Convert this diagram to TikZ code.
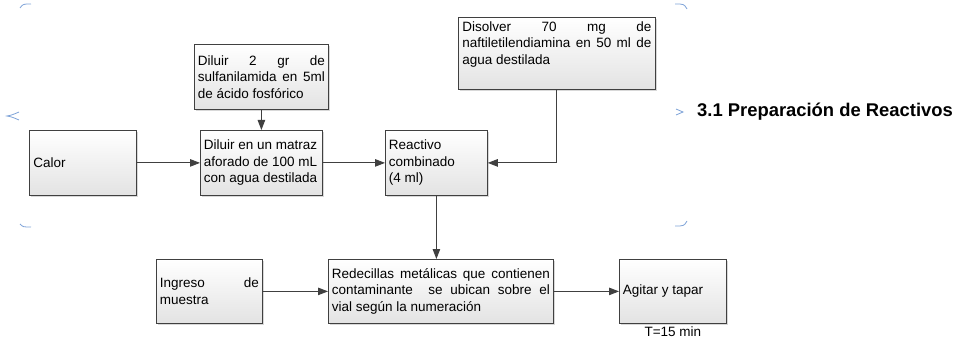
\documentclass[tikz,border=0pt]{standalone}
\usepackage{fontspec}
\setmainfont{Liberation Sans}
\usetikzlibrary{arrows.meta,shadows}
\definecolor{edgegray}{HTML}{404040}
\definecolor{bracecol}{HTML}{7FA3D8}
\tikzset{
 boxnode/.style={draw=edgegray, line width=0.8pt, top color=white, bottom color=black!11,
   drop shadow={shadow xshift=1.3pt, shadow yshift=-1.3pt, fill=black!30, opacity=0.5},
   anchor=north west, inner sep=0pt, font=\fontsize{13.5}{16.5}\selectfont, align=justify},
 flow/.style={draw=edgegray, line width=0.9pt, -{Triangle[length=10pt,width=7.5pt]}},
 bracemark/.style={draw=bracecol, line width=0.8pt},
}
\begin{document}
\begin{tikzpicture}[x=1pt,y=-1pt]
\useasboundingbox (0,0) rectangle (958,339);
% boxes
\node[boxnode, minimum width=107pt, minimum height=65pt, text width=99pt] (calor) at (29,130) {Calor};
\node[boxnode, minimum width=134pt, minimum height=65pt, text width=127pt] (sulf) at (194,44)
  {Diluir 2 gr de\linebreak sulfanilamida en 5ml\linebreak de ácido fosfórico};
\node[boxnode, minimum width=122pt, minimum height=65pt, text width=115pt] (dil) at (200,130)
  {Diluir en un matraz\\ aforado de 100 mL\\ con agua destilada};
\node[boxnode, minimum width=102pt, minimum height=65pt, text width=95pt] (reac) at (385,130)
  {Reactivo\\ combinado\\ (4 ml)};
\node[boxnode, minimum width=197pt, minimum height=72pt, text width=189pt] (disol) at (458,17)
  {Disolver 70 mg de\linebreak naftiletilendiamina en 50 ml de\linebreak agua destilada\\ \strut};
\node[boxnode, minimum width=106pt, minimum height=64pt, text width=99pt] (ing) at (156,259)
  {Ingreso de\linebreak muestra};
\node[boxnode, minimum width=225pt, minimum height=64pt, text width=218pt] (rede) at (328,259)
  {Redecillas metálicas que contienen\linebreak contaminante\ \ se ubican sobre el\linebreak vial según la numeración};
\node[boxnode, minimum width=107pt, minimum height=64pt, text width=100pt] (agit) at (619,259)
  {Agitar y tapar};
% labels
\node[anchor=base, inner sep=0pt, font=\fontsize{13.5}{16.5}\selectfont] (tmin) at ([yshift=-12.5pt]agit.south) {T=15 min};
\node[anchor=west, inner sep=0pt, font=\bfseries\fontsize{18.4}{22}\selectfont] (title) at (697,112) {3.1 Preparación de Reactivos};
% connectors
\draw[flow] (calor.east) -- (dil.west);
\draw[flow] (dil.east) -- (reac.west);
\draw[flow] (sulf.south) -- (dil.north);
\draw[flow] (disol.south) |- (reac.east);
\draw[flow] (reac.south) -- (reac.south |- rede.north);
\draw[flow] (ing.east) -- (rede.west);
\draw[flow] (rede.east) -- (agit.west);
% brace fragments
\draw[bracemark] (20,8) .. controls (23,4) .. (31,4);
\draw[bracemark] (19,112) .. controls (12,115) .. (7,116) .. controls (12,117) .. (19,120);
\draw[bracemark] (20,224) .. controls (23,227) .. (31,227);
\draw[bracemark] (675,4) .. controls (684,4) .. (687,9);
\draw[bracemark] (675,226) .. controls (684,226) .. (687,221);
\draw[bracemark] (676,109) .. controls (680,111) .. (683,112) .. controls (680,113) .. (676,115);
\end{tikzpicture}
\end{document}
